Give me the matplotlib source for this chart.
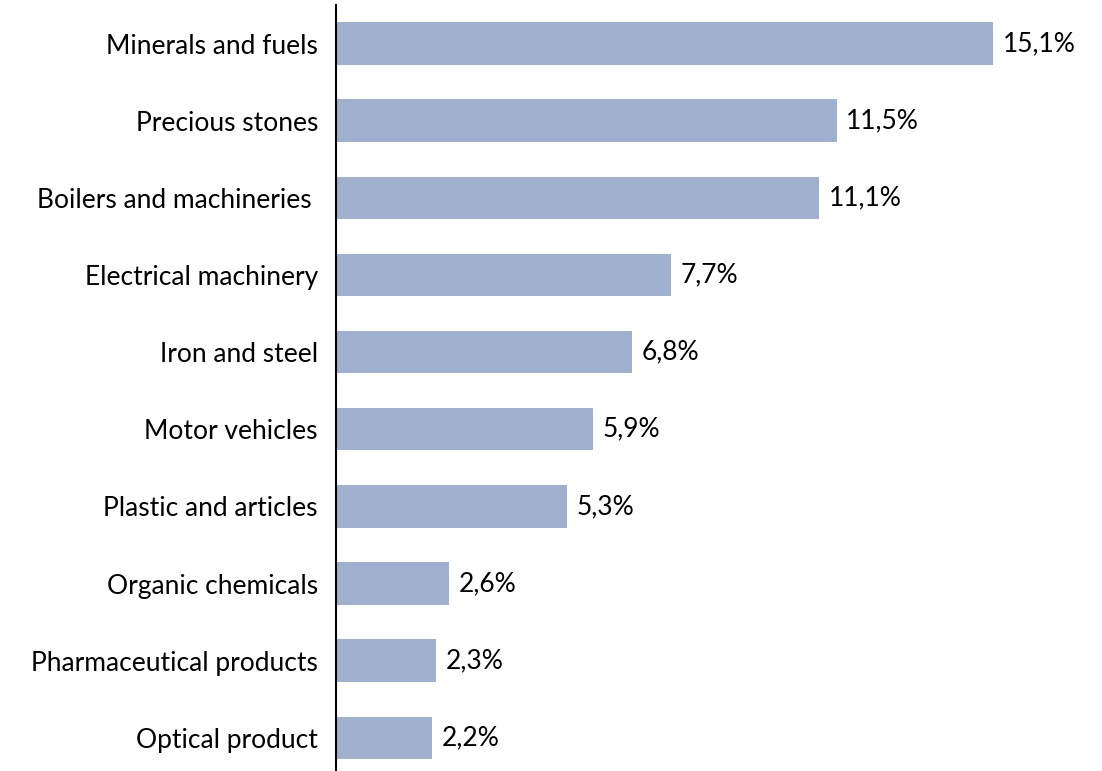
import matplotlib
matplotlib.use("Agg")
import matplotlib.pyplot as plt

# ---- data ----
categories = [
    "Minerals and fuels",
    "Precious stones",
    "Boilers and machineries ",
    "Electrical machinery",
    "Iron and steel",
    "Motor vehicles",
    "Plastic and articles",
    "Organic chemicals",
    "Pharmaceutical products",
    "Optical product",
]
shares = [15.1, 11.5, 11.1, 7.7, 6.8, 5.9, 5.3, 2.6, 2.3, 2.2]

plt.rcParams["font.family"] = ["Lato", "DejaVu Sans"]

fig = plt.figure(figsize=(11.02, 7.71), dpi=100)
ax = fig.add_axes([336 / 1102, 0.0, 1 - 336 / 1102, 1 - 5 / 771])

ypos = list(range(len(categories)))
ax.barh(ypos, shares, height=0.55, color="#9FB1CE")

for y, v in zip(ypos, shares):
    ax.text(v + 0.22, y, f"{v:.1f}%".replace(".", ","), va="center", ha="left",
            fontsize=19, color="black")

ax.set_ylim(9.43, -0.5)
ax.set_xlim(0, 17.6)
ax.set_yticks(ypos)
ax.set_yticklabels(categories, fontsize=19)
ax.tick_params(axis="y", length=0, pad=13)
ax.set_xticks([])

for side in ("top", "right", "bottom"):
    ax.spines[side].set_visible(False)
ax.spines["left"].set_linewidth(1.5)
ax.spines["left"].set_color("black")

plt.savefig("out.png", dpi=100)
